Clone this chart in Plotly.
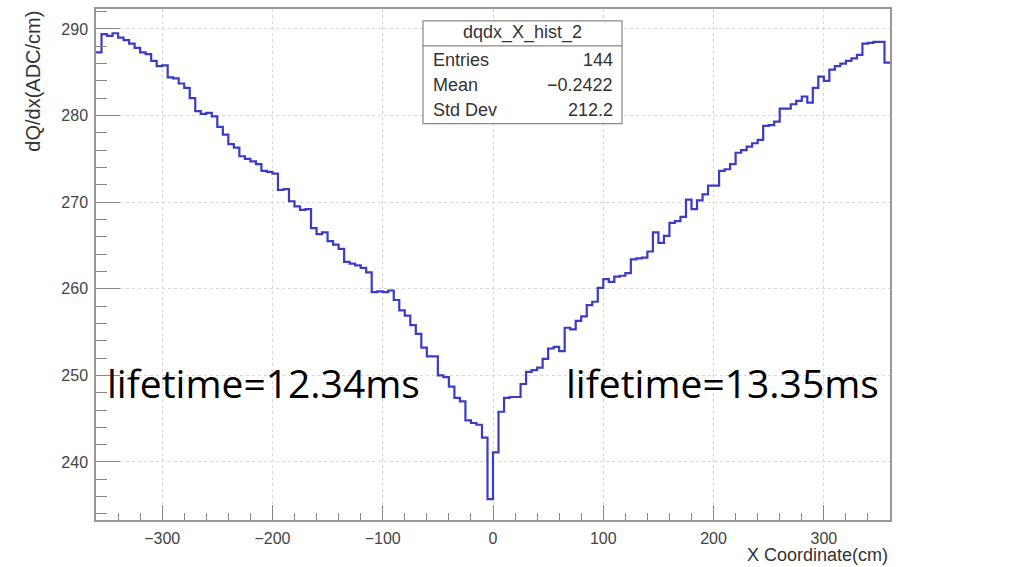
import plotly.graph_objects as go

# Histogram dqdx_X_hist_2: 144 bins, 5 cm wide, from -360 to 360 cm
x_low = -360
bin_width = 5
dqdx_values = [
    287.3, 289.4, 289.2, 289.5, 289.0, 288.7, 288.3, 287.8, 287.3, 287.1,
    286.3, 285.7, 285.8, 284.4, 284.3, 283.7, 283.2, 282.0, 280.5, 280.2,
    280.3, 279.9, 278.7, 277.8, 276.7, 276.3, 275.3, 275.0, 274.7, 274.4,
    273.6, 273.5, 273.3, 271.4, 271.5, 270.1, 269.5, 269.1, 269.2, 267.0,
    266.3, 266.5, 265.5, 265.1, 264.6, 263.1, 262.9, 262.7, 262.4, 261.9,
    259.6, 259.7, 259.6, 259.8, 258.7, 257.5, 256.9, 255.8, 254.8, 253.2,
    252.2, 252.2, 250.0, 249.8, 248.7, 247.4, 247.0, 244.8, 244.5, 244.3,
    242.8, 235.7, 241.1, 245.8, 247.4, 247.5, 247.5, 249.0, 250.4, 250.6,
    250.9, 251.9, 253.1, 253.3, 252.8, 255.5, 255.3, 256.3, 256.8, 258.1,
    258.5, 260.1, 261.1, 260.8, 261.4, 261.5, 261.8, 263.4, 263.5, 263.6,
    264.3, 266.5, 265.3, 266.1, 267.6, 267.8, 268.3, 270.3, 269.2, 270.2,
    270.9, 271.9, 271.9, 273.6, 273.8, 274.4, 275.7, 276.0, 276.4, 276.8,
    277.2, 278.8, 278.9, 279.3, 280.8, 280.8, 281.3, 281.7, 282.2, 281.5,
    283.2, 284.5, 284.0, 285.3, 285.7, 286.0, 286.3, 286.6, 287.0, 288.3,
    288.4, 288.5, 288.5, 286.1,
]
stats_title = "dqdx_X_hist_2"
stats_labels = ["Entries", "Mean", "Std Dev"]
stats_values = ["144", "\u22120.2422", "212.2"]
left_note = "lifetime=12.34ms"
right_note = "lifetime=13.35ms"
x_title = "X Coordinate(cm)"
y_title = "dQ/dx(ADC/cm)"

edges = [x_low + bin_width * i for i in range(len(dqdx_values) + 1)]
ys = dqdx_values + [dqdx_values[-1]]

fig = go.Figure()
fig.add_trace(go.Scatter(
    x=edges, y=ys, mode="lines", line_shape="hv",
    line=dict(color="#3b3bc4", width=2.2), showlegend=False, hoverinfo="skip",
))

W, H = 1018, 567
L, R, T, B = 96, 890, 7, 520

def px(xp):
    return (xp - L) / (R - L)

def py(yp):
    return (B - yp) / (B - T)

helv = "Liberation Sans, Arial, sans-serif"
axis_font = dict(family=helv, size=16, color="#444")

fig.update_layout(
    width=W, height=H,
    margin=dict(l=L, r=W - R, t=T, b=H - B),
    paper_bgcolor="white", plot_bgcolor="white",
    xaxis=dict(
        range=[-360, 360], dtick=100, tick0=0,
        ticks="inside", ticklen=15, tickwidth=1, tickcolor="#888",
        minor=dict(dtick=20, tick0=0, ticks="inside", ticklen=7, tickcolor="#888", showgrid=False),
        showgrid=True, gridcolor="#d8d8d8", griddash="dot", gridwidth=1,
        showline=True, linecolor="#999", linewidth=1.5, mirror=True,
        zeroline=False, tickfont=axis_font, ticklabelstandoff=3,
    ),
    yaxis=dict(
        range=[233.3, 292.3], dtick=10, tick0=0,
        ticks="inside", ticklen=24, tickwidth=1, tickcolor="#888",
        minor=dict(dtick=2, tick0=0, ticks="inside", ticklen=11, tickcolor="#888", showgrid=False),
        showgrid=True, gridcolor="#d8d8d8", griddash="dot", gridwidth=1,
        showline=True, linecolor="#999", linewidth=1.5, mirror=True,
        zeroline=False, tickfont=axis_font, ticklabelstandoff=3,
    ),
)

annotations = []
shapes = []
# axis titles
annotations.append(dict(text=x_title, xref="paper", yref="paper", x=1.0, y=py(555),
                        xanchor="right", yanchor="middle", showarrow=False,
                        font=dict(family=helv, size=18, color="#333")))
annotations.append(dict(text=y_title, xref="paper", yref="paper", x=px(33), y=py(80),
                        xanchor="center", yanchor="middle", textangle=-90, showarrow=False,
                        font=dict(family=helv, size=20, color="#333")))

# stats box
bx0, bx1, by0, bsep, by1 = 423, 622, 19, 44, 122
shapes.append(dict(type="rect", xref="paper", yref="paper",
                   x0=px(bx0), x1=px(bx1), y0=py(by1), y1=py(by0),
                   line=dict(color="#888", width=1.2), fillcolor="white", layer="above"))
shapes.append(dict(type="line", xref="paper", yref="paper",
                   x0=px(bx0), x1=px(bx1), y0=py(bsep), y1=py(bsep),
                   line=dict(color="#888", width=1.2), layer="above"))
stat_font = dict(family=helv, size=18, color="#333")
annotations.append(dict(text=stats_title, xref="paper", yref="paper", x=px((bx0 + bx1) / 2), y=py(31),
                        xanchor="center", yanchor="middle", showarrow=False, font=stat_font))
for i, (lab, val) in enumerate(zip(stats_labels, stats_values)):
    yy = py(58 + 25 * i)
    annotations.append(dict(text=lab, xref="paper", yref="paper", x=px(bx0 + 8), y=yy,
                            xanchor="left", yanchor="middle", showarrow=False, font=stat_font))
    annotations.append(dict(text=val, xref="paper", yref="paper", x=px(bx1 - 7), y=yy,
                            xanchor="right", yanchor="middle", showarrow=False, font=stat_font))

note_font = dict(family="Open Sans, Noto Sans, sans-serif", size=39, color="black")
annotations.append(dict(text=left_note, xref="paper", yref="paper", x=px(105), y=py(382),
                        xanchor="left", yanchor="middle", showarrow=False, font=note_font))
annotations.append(dict(text=right_note, xref="paper", yref="paper", x=px(564), y=py(382),
                        xanchor="left", yanchor="middle", showarrow=False, font=note_font))

fig.update_layout(annotations=annotations, shapes=shapes)
fig.write_html("out.html")
